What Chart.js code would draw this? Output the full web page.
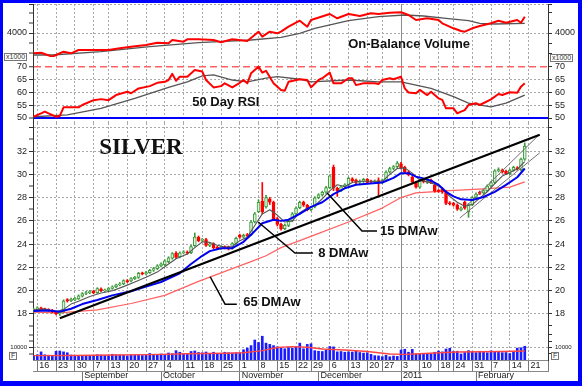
<!DOCTYPE html>
<html>
<head>
<meta charset="utf-8">
<script src="https://cdn.jsdelivr.net/npm/chart.js@4.4.1/dist/chart.umd.min.js"></script>
<style>
  html, body { margin:0; padding:0; background:#ffffff; }
  body { width:582px; height:390px; position:relative; overflow:hidden; }
  canvas { position:absolute; left:0; }
  #frame { position:absolute; left:0; top:0; width:582px; height:386px; box-sizing:border-box;
           border-style:solid; border-color:#0000ff; border-width:3px 4px 5px 3px; pointer-events:none; z-index:10; }
  .tag { position:absolute; font-family:"Liberation Sans", Arial, sans-serif; font-size:7px; line-height:6px;
         color:#333; border:1px solid #777; padding:0 1px; background:#fff; z-index:5; }
</style>
</head>
<body>
<canvas id="cObv" width="582" height="53" style="top:4px"></canvas>
<canvas id="cRsi" width="582" height="66" style="top:57px"></canvas>
<canvas id="cMain" width="582" height="211" style="top:123px"></canvas>
<canvas id="cVol" width="582" height="51" style="top:334px"></canvas>
<div class="tag" style="left:4px;top:53px">x1000</div>
<div class="tag" style="left:550px;top:54px">x1000</div>
<div class="tag" style="left:9px;top:352px">F</div>
<div class="tag" style="left:551px;top:352px">F</div>
<div id="frame"></div>
<script>
// ---------- categories: trading-day index (0 = Aug 16 2010) ----------
const FIRST_DAY = -1;
const dayTicks  = [0,5,10,15,19,24,29,34,39,44,49,54,59,64,69,73,78,83,88,92,97,102,107,111,116,121,126,131];
const dayLabels = ['16','23','30','7','13','20','27','4','11','18','25','1','8','15','22','29','6','13','20','27','3','10','18','24','31','7','14','21'];
const monthTicks  = [12,33,54,75,97,117];
const monthLabels = ['September','October','November','December','2011','February'];
const YEAR_DAY = 97;

// ---------- price candles ----------
const open = [
 18.30,18.38,18.52,18.44,18.38,18.32,18.18,18.02,18.20,19.24,
 19.14,19.22,19.30,19.54,19.76,19.84,19.96,19.84,20.16,19.98,
 20.06,20.20,20.34,20.50,20.60,20.88,20.84,21.04,21.14,21.52,
 21.44,21.56,21.76,21.90,22.14,22.24,22.50,22.80,23.24,22.90,
 23.26,23.32,23.26,23.86,24.60,24.32,24.40,23.90,24.04,23.72,
 23.64,23.76,23.76,23.64,24.06,24.76,24.60,24.82,24.80,25.90,
 26.80,27.70,27.20,27.90,27.60,26.20,25.70,25.34,25.60,26.00,
 26.60,27.14,27.60,27.34,26.96,27.20,28.00,28.22,28.46,28.86,
 30.60,28.80,28.60,28.92,29.10,29.62,29.50,29.30,29.40,29.56,
 29.42,29.34,29.46,29.30,29.50,30.20,30.50,30.66,30.90,30.60,
 30.20,29.74,29.30,28.90,29.50,29.30,29.50,29.10,28.60,28.76,
 28.50,27.56,27.50,27.36,26.96,27.60,26.80,27.40,28.00,28.46,
 28.40,28.60,29.00,29.30,30.30,30.36,30.26,30.06,30.36,30.56,
 30.40,31.30];
const close = [
 18.42,18.52,18.44,18.38,18.30,18.18,18.02,18.14,19.10,19.14,
 19.26,19.34,19.56,19.76,19.84,19.92,19.82,20.18,20.00,20.06,
 20.20,20.34,20.50,20.60,20.86,20.78,21.04,21.14,21.50,21.44,
 21.56,21.76,21.90,22.14,22.30,22.56,22.82,23.18,22.86,23.26,
 23.32,23.22,23.80,24.60,24.30,24.38,23.90,24.02,23.70,23.64,
 23.76,23.70,23.60,24.06,24.50,24.60,24.76,24.70,25.90,26.60,
 27.60,26.80,28.00,27.60,26.20,25.70,25.34,25.62,26.02,26.60,
 27.10,27.60,27.34,26.96,27.16,27.98,28.24,28.46,28.86,29.86,
 28.80,28.60,28.92,29.10,29.66,29.46,29.30,29.40,29.56,29.30,
 29.34,29.42,29.30,29.50,30.20,30.50,30.66,30.96,30.56,30.20,
 29.96,29.36,28.90,29.50,29.36,29.46,29.30,28.56,28.54,28.46,
 27.50,27.46,27.36,27.00,27.10,27.10,27.40,28.00,28.30,28.36,
 28.60,29.00,29.30,30.30,30.40,30.20,30.06,30.36,30.60,30.46,
 31.30,32.40];
const high = [
 18.50,18.62,18.60,18.50,18.45,18.40,18.26,18.22,19.22,19.32,
 19.36,19.42,19.64,19.84,19.94,20.02,20.04,20.26,20.24,20.14,
 20.28,20.42,20.58,20.70,20.94,20.96,21.12,21.24,21.58,21.60,
 21.66,21.84,22.00,22.24,22.40,22.66,22.92,23.28,23.36,23.34,
 23.44,23.42,23.90,24.96,24.70,24.50,24.50,24.14,24.12,23.82,
 23.86,23.86,23.84,24.14,24.60,24.86,24.86,24.92,26.00,26.72,
 27.80,29.30,28.20,28.02,27.70,26.30,25.80,25.74,26.12,26.72,
 27.20,27.70,27.70,27.42,27.26,28.08,28.34,28.56,28.96,29.96,
 30.80,28.90,29.02,29.20,29.76,29.72,29.60,29.52,29.66,29.64,
 29.50,29.52,29.70,29.60,30.30,30.60,30.76,31.10,31.04,30.70,
 30.30,29.84,29.40,29.60,29.60,29.56,29.60,29.20,28.70,28.86,
 28.60,27.66,27.60,27.46,27.20,27.70,27.50,28.10,28.40,28.56,
 28.70,29.10,29.40,30.40,30.56,30.46,30.36,30.46,30.70,30.66,
 31.40,32.70];
const low = [
 18.22,18.30,18.36,18.30,18.22,18.08,17.92,17.86,18.14,19.02,
 19.06,19.14,19.24,19.46,19.66,19.74,19.74,19.78,19.92,19.90,
 19.98,20.12,20.26,20.42,20.52,20.70,20.76,20.96,21.06,21.36,
 21.36,21.48,21.66,21.82,22.04,22.16,22.40,22.70,22.78,22.82,
 23.16,23.12,23.18,23.80,24.20,24.20,23.80,23.78,23.60,23.52,
 23.54,23.60,23.50,23.56,23.98,24.50,24.52,24.60,24.72,25.82,
 26.70,26.60,27.10,27.40,26.10,25.56,25.20,25.24,25.50,25.92,
 26.50,27.04,27.24,26.86,26.86,27.12,27.90,28.12,28.36,28.78,
 28.60,28.10,28.50,28.82,29.02,29.36,29.20,29.20,29.30,29.20,
 29.24,29.24,28.20,29.20,29.42,30.10,30.40,30.56,30.46,30.10,
 29.86,29.26,28.80,28.80,29.26,29.20,29.20,28.46,28.44,28.36,
 27.40,27.36,27.26,26.90,26.86,27.00,26.30,27.30,27.90,28.26,
 28.30,28.50,28.90,29.20,30.20,30.10,29.96,29.96,30.26,30.36,
 30.30,31.20];
const volume = [
 3500,4200,6500,4200,3800,3600,7000,7200,6500,5800,
 4000,3000,3500,3200,3800,3500,3500,4200,3900,3600,
 3500,4600,4200,3900,3800,3200,4000,3800,3900,3600,
 3700,5200,4600,4100,4800,4200,5600,5000,7500,6200,
 4800,5300,6800,7200,6000,5800,6400,5000,6200,5100,
 5300,6200,5800,5500,5800,5800,8200,9500,11500,16000,
 14000,19000,13500,12500,11500,10500,9500,9000,10000,9500,
 10500,13500,9000,12500,13000,7500,7000,6800,7800,10800,
 10500,6500,6800,6200,6500,6300,7000,6000,5500,5800,
 4500,3500,3300,2700,3800,2600,3200,2900,8000,8600,
 6200,8500,4800,5200,5000,5100,4800,6200,7200,6500,
 8800,9400,6800,7000,4800,6000,7500,6600,5900,7000,
 6300,5800,7300,6500,6800,5900,6000,5200,6200,9500,
 9800,11000];

// ---------- moving averages ----------
const ma8Day   = [-1,2,5,7,9,11,14,17,20,23,26,29,32,35,37,40,42,44,46,48,50,52,54,56,58,60,62,64,66,68,70,72,74,76,78,80,82,84,86,88,90,92,94,96,98,100,102,104,106,108,110,112,114,116,118,120,122,124,126,128,130];
const ma8Value = [18.35,18.42,18.2,18.4,18.85,19.1,19.5,19.8,20.0,20.35,20.75,21.15,21.6,22.3,22.75,23.15,23.7,24.2,24.15,23.9,23.75,23.8,24.3,24.6,25.6,26.6,26.95,26.5,25.9,26.0,26.7,27.1,27.3,27.9,28.6,29.1,28.95,29.3,29.4,29.4,29.4,29.4,30.0,30.5,30.55,30.1,29.5,29.35,29.15,28.8,28.1,27.6,27.25,27.4,27.95,28.5,29.2,29.85,30.15,30.45,31.1];
const ma15Day   = [-1,3,6,9,12,16,20,25,29,33,38,41,44,46,49,52,55,57,60,63,65,67,70,73,76,79,82,85,88,92,95,97,99,101,103,105,107,109,111,113,116,119,122,125,128,130];
const ma15Value = [18.25,18.3,18.2,18.45,18.85,19.2,19.6,19.95,20.35,20.75,21.5,22.3,23.0,23.4,23.65,23.65,24.2,24.8,25.8,26.1,26.0,26.1,26.6,27.2,27.6,28.3,28.8,29.1,29.2,29.3,29.7,30.1,30.1,29.8,29.65,29.45,29.1,28.5,28.1,27.85,27.8,28.05,28.5,29.1,29.75,30.5];
const ma65Day   = [-1,6,16,25,34,43,52,57,61,65,70,74,83,92,97,101,110,119,126,130];
const ma65Value = [18.15,18.1,18.35,18.9,19.6,20.8,21.9,22.5,23.0,23.7,24.3,24.8,25.9,27.1,28.0,28.4,28.6,28.75,28.9,29.35];

// ---------- drawn trend lines ----------
const trendDay = [6,134],          trendValue = [17.63,33.4];
const chanUpDay = [114.5,133.5],   chanUpValue = [27.3,33.3];
const chanLoDay = [112.7,134],     chanLoValue = [26.25,31.85];

// ---------- volume MA ----------
const volMaDay   = [-1,10,20,30,40,50,55,60,64,68,72,76,82,88,94,98,102,106,112,118,124,130];
const volMaValue = [3500,3600,4000,4300,5000,5400,5800,7500,10000,10700,10200,8800,8000,6800,4800,4500,5000,5600,6400,6600,6800,7200];

// ---------- on-balance volume (x1000) ----------
const obvDay   = [-1,1,4,5,7,9,11,15,19,22,25,29,32,35,36,39,40,43,47,49,52,56,59,60,62,64,65,67,70,72,73,78,80,83,86,89,91,94,97,99,101,104,107,108,111,113,114,116,118,121,123,125,128,129,130];
const obvValue = [3594,3606,3526,3560,3626,3594,3660,3660,3660,3694,3726,3760,3806,3794,3860,3826,3874,3874,3860,3814,3874,3840,4026,3926,4026,3994,4026,4126,4246,4126,4260,4380,4294,4380,4340,4394,4380,4406,4414,4360,4260,4294,4260,4194,4094,4040,4026,4094,4140,4194,4246,4206,4260,4206,4326];
const obvMaDay   = [-1,4,17,30,43,57,65,70,74,83,91,98,103,109,115,118,122,130];
const obvMaValue = [3560,3560,3626,3726,3806,3860,3914,3994,4094,4246,4326,4360,4340,4294,4246,4194,4180,4194];

// ---------- 50 day RSI ----------
const rsiDay   = [-1,1,2,3,5,6,7,11,12,15,17,19,21,24,25,27,30,32,34,35,36,37,38,40,42,43,44,45,47,49,50,52,54,55,56,57,59,60,61,63,65,66,67,70,72,73,75,76,78,79,81,83,84,85,87,90,91,92,94,95,97,98,99,101,102,104,105,107,108,109,111,112,113,114,115,117,118,121,123,124,126,128,129,130];
const rsiValue = [50.5,51.8,52.5,51.8,50.5,50.8,54.2,54.2,55.1,57.0,57.4,57.0,59.0,60.3,59.7,61.6,62.5,63.8,64.2,64.9,67.3,64.6,66.2,66.2,68.8,68.5,68.2,64.9,62.0,62.5,63.6,62.0,63.8,64.9,63.6,67.5,70.1,67.8,68.5,63.6,61.0,60.7,64.2,65.2,64.9,62.0,64.9,65.6,67.8,63.6,63.6,65.6,65.6,62.9,63.6,63.6,63.3,64.9,65.6,65.2,66.2,61.6,60.0,59.7,61.0,59.0,60.3,57.7,57.1,53.8,53.8,51.8,52.5,53.1,55.1,55.8,55.1,57.3,59.4,59.0,60.1,59.9,62.3,63.6];
const rsiMaDay   = [-1,8,17,26,35,40,44,47,52,56,61,64,70,73,83,91,97,105,111,115,121,125,130];
const rsiMaValue = [50.5,51.2,53.8,57.7,62.0,64.2,66.5,66.9,64.9,64.2,65.6,66.2,65.2,64.2,64.9,64.2,64.2,61.6,58.4,55.8,54.4,55.8,59.0];

// ================= rendering =================
const FONT = "'Liberation Sans', Arial, sans-serif";
const X_MIN = -1.15, X_MAX = 136.2;
Chart.defaults.font.family = FONT;
Chart.defaults.color = '#222';

const days = close.map((_, i) => i + FIRST_DAY);
const pts = (d, v) => d.map((x, i) => ({x, y: v[i]}));
const isYear = c => !!(c && c.tick && c.tick.value === YEAR_DAY);

const GRID = '#a8a8a8';
const GRID_DASH = [2, 2];
const DOT = {color:GRID, width:1, dash:GRID_DASH};
const NONE = {color:'rgba(0,0,0,0)', width:0, dash:[]};

function xGridAxis() {
  return {
    type:'linear', min:X_MIN, max:X_MAX, offset:false,
    afterBuildTicks: s => { s.ticks = dayTicks.map(v => ({value:v})); },
    ticks:{display:false},
    grid:{offset:false, drawTicks:false, lineWidth:1, color: c => isYear(c) ? '#8c8c8c' : GRID},
    border:{display:false, dash: c => isYear(c) ? [] : GRID_DASH},
    afterFit: s => { s.height = 0; s.paddingLeft = 0; s.paddingRight = 0; }
  };
}
function yPair(id, min, max, tickVals, labelFn, styleFn, fontSize) {
  const tickOpts = {autoSkip:false, font:{family:FONT, size:fontSize || 9}, color:'#222', callback: v => labelFn(v)};
  const build = s => { s.ticks = tickVals.filter(v => v >= min && v <= max).map(v => ({value:v})); };
  const st = c => (c && c.tick) ? styleFn(c.tick.value) : NONE;
  const out = {};
  out[id] = {
    type:'linear', position:'left', min, max, afterBuildTicks: build,
    ticks:{...tickOpts, padding:2},
    grid:{drawTicks:true, tickLength:4, tickColor:'#333', tickWidth:1, color: c => st(c).color, lineWidth: c => st(c).width},
    border:{display:true, color:'#333', width:1, dash: c => st(c).dash},
    afterFit: s => { s.width = 33; s.paddingTop = 0; s.paddingBottom = 0; }
  };
  out[id + 'R'] = {
    type:'linear', position:'right', min, max, afterBuildTicks: build,
    ticks:{...tickOpts, padding:3},
    grid:{drawOnChartArea:false, drawTicks:true, tickLength:4, tickColor:'#333', tickWidth:1},
    border:{display:true, color:'#333', width:1},
    afterFit: s => { s.width = 34; s.paddingTop = 0; s.paddingBottom = 0; }
  };
  return out;
}
function textPlugin(items) {
  return {id:'texts', afterDatasetsDraw(chart) {
    const ctx = chart.ctx, xs = chart.scales.x;
    for (const t of items) {
      const ys = chart.scales[t.axis];
      ctx.save(); ctx.font = t.font; ctx.fillStyle = '#111'; ctx.textAlign = 'left'; ctx.textBaseline = 'middle';
      ctx.fillText(t.text, xs.getPixelForValue(t.x), ys.getPixelForValue(t.y));
      ctx.restore();
    }
  }};
}
const base = () => ({
  responsive:false, animation:false, devicePixelRatio:1, events:[],
  layout:{padding:0, autoPadding:false},
  plugins:{legend:{display:false}, tooltip:{enabled:false}}
});
const line = (data, axis, color, width, order, extra) => Object.assign({
  type:'line', data, yAxisID:axis, borderColor:color, borderWidth:width, pointRadius:0,
  fill:false, tension:0, order, borderJoinStyle:'round'}, extra || {});

// ---- On-Balance Volume ----
new Chart(document.getElementById('cObv'), {
  type:'line',
  data:{datasets:[
    line(pts(obvMaDay, obvMaValue), 'yo', '#555', 1.3, 2),
    line(pts(obvDay, obvValue), 'yo', '#ff0000', 2, 1)
  ]},
  options:{...base(), scales:{
    x: xGridAxis(),
    ...yPair('yo', 3520, 4580, [3600,3800,4000,4200,4400,4560], v => v === 4000 ? '4000' : '',
             v => (v === 4000 || v === 4560) ? DOT : NONE)
  }},
  plugins:[textPlugin([{text:'On-Balance Volume', x:82.9, y:3780, axis:'yo', font:'bold 13px ' + FONT}])]
});

// ---- RSI ----
new Chart(document.getElementById('cRsi'), {
  type:'line',
  data:{datasets:[
    line(pts(rsiMaDay, rsiMaValue), 'yr', '#555', 1.3, 2),
    line(pts(rsiDay, rsiValue), 'yr', '#ff0000', 2, 1)
  ]},
  options:{...base(), scales:{
    x: xGridAxis(),
    ...yPair('yr', 48.04, 73.92, [50,55,60,65,70], v => String(v),
      v => v === 50 ? {color:'#0000ff', width:2, dash:[]} : (v === 70 ? {color:'#ff6060', width:1.5, dash:[7,4]} : DOT))
  }},
  plugins:[textPlugin([{text:'50 Day RSI', x:41.3, y:56.3, axis:'yr', font:'bold 13px ' + FONT}])]
});

// ---- Price ----
const UP_LINE = '#3c9c3c', UP_FILL = '#d9f0d9', DOWN = '#ff0000';
const upDay = close.map((c, i) => c >= open[i]);
new Chart(document.getElementById('cMain'), {
  type:'line',
  data:{datasets:[
    line(pts(ma65Day, ma65Value), 'yp', '#ff6060', 1.2, 9),
    {type:'bar', data: days.map((d, i) => ({x:d, y:[low[i], high[i]]})), yAxisID:'yp', grouped:false,
     barThickness:1, backgroundColor: upDay.map(u => u ? UP_LINE : DOWN), borderWidth:0, order:8},
    {type:'bar', data: days.map((d, i) => ({x:d, y:[open[i], close[i]]})), yAxisID:'yp', grouped:false,
     barThickness:3, minBarLength:1, borderSkipped:false, borderWidth:1,
     backgroundColor: upDay.map(u => u ? UP_FILL : DOWN), borderColor: upDay.map(u => u ? UP_LINE : DOWN), order:7},
    line(pts(ma8Day, ma8Value), 'yp', '#555555', 1.1, 6),
    line(pts(chanUpDay, chanUpValue), 'yp', '#707070', 1, 5),
    line(pts(chanLoDay, chanLoValue), 'yp', '#707070', 1, 5),
    line(pts(ma15Day, ma15Value), 'yp', '#0000ee', 2, 4),
    line(pts(trendDay, trendValue), 'yp', '#000000', 2.2, 3),
    line(pts([58.9,68.7,73.5], [25.9,23.24,23.24]), 'yp', '#000', 1.5, 2),
    line(pts([77.3,86.6,90.6], [28.4,25.13,25.13]), 'yp', '#000', 1.5, 2),
    line(pts([46.1,50.1,53.2], [21.2,18.83,18.83]), 'yp', '#000', 1.5, 2)
  ]},
  options:{...base(), scales:{
    x: xGridAxis(),
    ...yPair('yp', 16.28, 34.41, [17,18,19,20,21,22,23,24,25,26,27,28,29,30,31,32,33,34],
      v => (v % 2 === 0 && v >= 18 && v <= 32) ? String(v) : '',
      v => (v % 2 === 0) ? DOT : NONE)
  }},
  plugins:[textPlugin([
    {text:'SILVER', x:16.5, y:32.26, axis:'yp', font:'bold 23px "Liberation Serif", "Times New Roman", serif'},
    {text:'8 DMAw', x:74.9, y:23.2, axis:'yp', font:'bold 13px ' + FONT},
    {text:'15 DMAw', x:91.4, y:25.13, axis:'yp', font:'bold 13px ' + FONT},
    {text:'65 DMAw', x:54.9, y:19.0, axis:'yp', font:'bold 13px ' + FONT}
  ])]
});

// ---- Volume + date axes ----
new Chart(document.getElementById('cVol'), {
  type:'line',
  data:{datasets:[
    {type:'bar', data: days.map((d, i) => ({x:d, y:volume[i]})), yAxisID:'yv', xAxisID:'x', grouped:false,
     barThickness:2, backgroundColor:'#1a1aff', borderWidth:0, order:2},
    line(pts(volMaDay, volMaValue), 'yv', '#ff4444', 1.4, 1)
  ]},
  options:{...base(), scales:{
    x:{
      type:'linear', min:X_MIN, max:X_MAX, offset:false, position:'bottom', weight:0,
      afterBuildTicks: s => { s.ticks = dayTicks.map(v => ({value:v})).concat([{value:X_MAX}]); },
      ticks:{autoSkip:false, maxRotation:0, minRotation:0, align:'start', labelOffset:2, padding:-11,
             font:{family:FONT, size:9}, color:'#222', callback:(v, i) => dayLabels[i] || ''},
      grid:{offset:false, drawTicks:true, tickLength:11, tickColor:'#777', tickWidth:1, lineWidth:1,
            color: c => isYear(c) ? '#8c8c8c' : (c && c.tick && c.tick.value === X_MAX ? 'rgba(0,0,0,0)' : GRID)},
      border:{display:true, color:'#888', width:1, dash: c => isYear(c) ? [] : GRID_DASH},
      afterFit: s => { s.height = 11; s.paddingLeft = 0; s.paddingRight = 0; }
    },
    xm:{
      type:'linear', min:X_MIN, max:X_MAX, offset:false, position:'bottom', weight:1,
      afterBuildTicks: s => { s.ticks = monthTicks.map(v => ({value:v})); },
      ticks:{autoSkip:false, maxRotation:0, minRotation:0, align:'start', labelOffset:2, padding:-11,
             font:{family:FONT, size:9}, color:'#222', callback:(v, i) => monthLabels[i] || ''},
      grid:{drawOnChartArea:false, drawTicks:true, tickLength:10, tickColor:'#777', tickWidth:1},
      border:{display:true, color:'#888', width:1},
      afterFit: s => { s.height = 14; s.paddingLeft = 0; s.paddingRight = 0; }
    },
    ...yPair('yv', 0, 20800, [5000,10000,15000,20000], v => v === 10000 ? '10000' : '',
             v => v === 10000 ? DOT : NONE, 6)
  }}
});
</script>
</body>
</html>
